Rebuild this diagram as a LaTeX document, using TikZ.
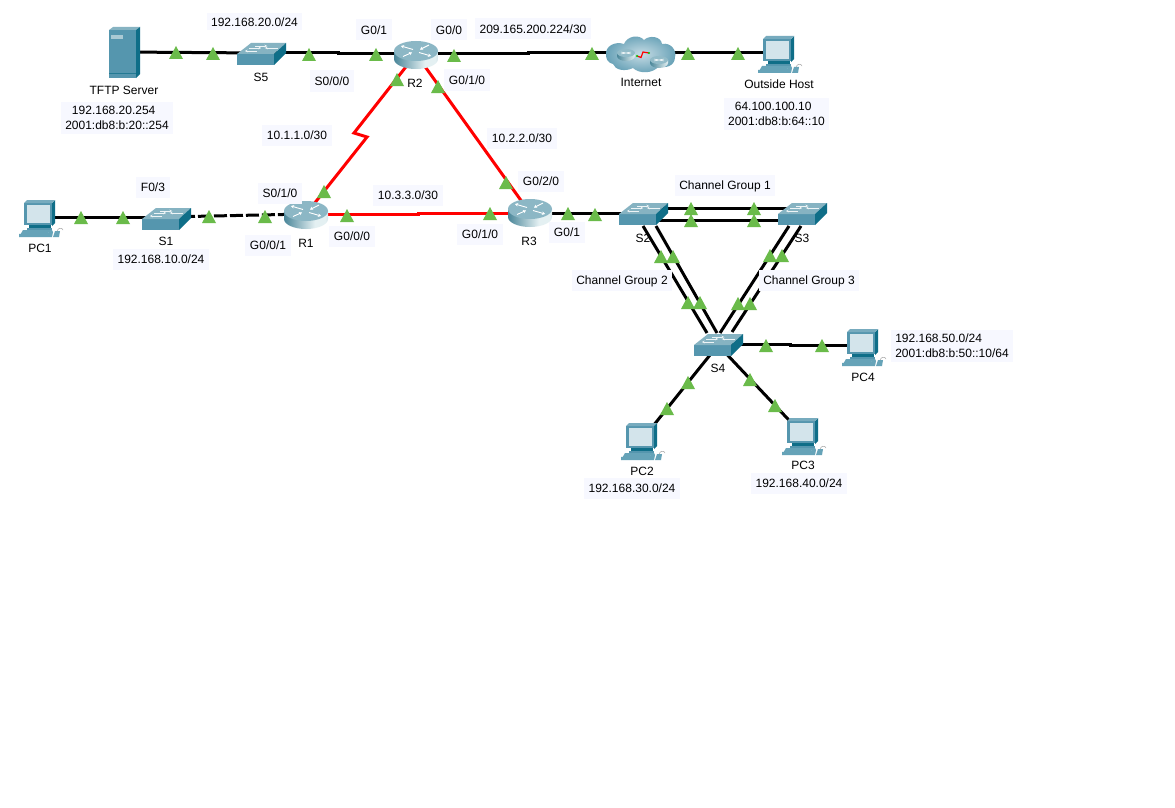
\documentclass[tikz,border=0pt]{standalone}
\usepackage{fontspec}
\usetikzlibrary{arrows.meta}
\setmainfont{Liberation Sans}
\definecolor{lblbg}{HTML}{F7F8FF}
\definecolor{trig}{HTML}{6ABB4A}
\definecolor{tfront}{HTML}{5596AE}
\definecolor{ttop}{HTML}{86B3C2}
\definecolor{tside}{HTML}{0F6E88}
\definecolor{tscreen}{HTML}{D3E4EB}
\definecolor{tkey}{HTML}{66A3B8}
\definecolor{rdark}{HTML}{4A8699}
\definecolor{rlight}{HTML}{E4F0F2}
\definecolor{redlink}{HTML}{FF0000}
\pgfdeclarehorizontalshading{routerbody}{100bp}{color(0bp)=(rdark); color(25bp)=(rdark); color(60bp)=(rlight); color(72bp)=(rlight); color(100bp)=(rdark)}
\tikzset{
  swmark/.style={white!85!ttop,line width=.5pt},
  romark/.style={white,line width=.9pt,-{Stealth[length=3pt,width=3.5pt]}},
}
\newcommand{\swicon}[2]{\begin{scope}[shift={(#1,#2)}]
    \fill[tfront] (0,0) rectangle (37,11);
    \fill[ttop] (0,0) -- (14,-11) -- (49,-11) -- (37,0) -- cycle;
    \fill[tside] (37,0) -- (49,-11) -- (49,-1) -- (37,11) -- cycle;
    \draw[swmark,-{Stealth[length=2.5pt,width=2.5pt]}] (18,-8) -- (30,-8);
    \draw[swmark,{Stealth[length=2.5pt,width=2.5pt]}-] (28,-6) -- (41,-6);
    \draw[swmark,-{Stealth[length=2.5pt,width=2.5pt]}] (12,-6) -- (24,-6);
    \draw[swmark,{Stealth[length=2.5pt,width=2.5pt]}-] (8,-3) -- (20,-3);
\end{scope}}
\newcommand{\roicon}[2]{\begin{scope}[shift={(#1,#2)}]
    \shade[shading=routerbody] (-22,0) -- (-22,8) arc[start angle=180,end angle=360,x radius=22,y radius=-10] -- (22,0) -- cycle;
    \fill[ttop!95!white] (0,0) ellipse[x radius=22,y radius=10];
    \draw[romark] (-3,-1.5) -- (-15,-5);
    \draw[romark] (-13,5.5) -- (-4,1.5);
    \draw[romark] (3,1.5) -- (15,5);
    \draw[romark] (13,-6) -- (4,-1.5);
\end{scope}}
\newcommand{\pcicon}[2]{\begin{scope}[shift={(#1,#2)}]
    \fill[tfront] (0,2) rectangle (28,24);
    \fill[tside] (28,2) -- (31,-1) -- (31,22) -- (28,25) -- cycle;
    \fill[tfront!80!white] (0,2) -- (3,-1) -- (31,-1) -- (28,2) -- cycle;
    \fill[tscreen] (2.5,4) rectangle (25.5,22);
    \fill[tside] (5,24) rectangle (27,27);
    \fill[tfront] (3,27) rectangle (28,29);
    \fill[tkey] (-1,29) -- (28,29) -- (29,31) -- (-5,36) -- cycle;
    \fill[tkey] (-5,33) -- (29,31) -- (28,36) -- (-5,36) -- cycle;
    \fill[tkey] (31,30) -- (36,30) -- (35,36) -- (29,36) -- cycle;
    \draw[black!35,line width=.5pt] (33,30) .. controls (34,27) and (38,26) .. (39,29);
\end{scope}}
\newcommand{\svicon}[2]{\begin{scope}[shift={(#1,#2)}]
    \fill[tfront] (0,3) rectangle (27,51);
    \fill[ttop] (0,3) -- (4,0) -- (31,0) -- (27,3) -- cycle;
    \fill[tside] (27,3) -- (31,0) -- (31,47) -- (27,51) -- cycle;
    \fill[ttop!70!white] (2,8) rectangle (14,12);
    \draw[tside!70!tfront,line width=.5pt] (0,46) -- (27,46);
\end{scope}}
\newcommand{\minirouter}{%
      \shade[left color=rdark,right color=rlight] (-9,0) -- (-9,3) arc[start angle=180,end angle=360,x radius=9,y radius=-5] -- (9,0) -- cycle;
      \fill[ttop!90!white] (0,0) ellipse[x radius=9,y radius=4];
      \draw[white,line width=.5pt] (-5,-1) -- (5,1) (-5,1) -- (5,-1);}
\newcommand{\clicon}[2]{\begin{scope}[shift={(#1,#2)}]
    \shade[inner color=tscreen!90!tfront,outer color=tfront!90!white]
      (-35,1) .. controls (-36,-8) and (-26,-13) .. (-17,-10)
      .. controls (-14,-18) and (-2,-20) .. (3,-14)
      .. controls (8,-19) and (20,-18) .. (21,-10)
      .. controls (30,-12) and (36,-3) .. (34,3)
      .. controls (34,12) and (24,15) .. (18,12)
      .. controls (12,20) and (-2,20) .. (-8,14)
      .. controls (-16,18) and (-26,16) .. (-28,10)
      .. controls (-33,9) and (-35,5) .. (-35,1) -- cycle;
    \begin{scope}[shift={(-15,-1)}]\minirouter\end{scope}
    \begin{scope}[shift={(18,6)}]\minirouter\end{scope}
    \draw[redlink,line width=1.2pt] (-4,2) -- (0,3.5) -- (2,-2) -- (8,-1);
    \fill[green!80!black] (-4,2) circle[radius=1.2] (8,-1) circle[radius=1.2];
\end{scope}}
\tikzset{
  dev/.style={inner sep=0pt,minimum size=0pt,outer sep=0pt},
  devtxt/.style={font=\fontsize{12}{15}\selectfont,inner sep=0pt,text=black},
  lbl/.style={font=\fontsize{12}{15}\selectfont,fill=lblbg,inner xsep=4.5pt,inner ysep=0pt,minimum height=21pt,text height=9pt,text depth=0pt,text=black},
  lbltwo/.style={font=\fontsize{12}{15}\selectfont,fill=lblbg,inner xsep=4.5pt,inner ysep=4pt,align=left,text=black},
  blk/.style={line width=3pt,black},
  rd/.style={line width=3pt,redlink},
  tri/.style={fill=trig},
}
\begin{document}
\begin{tikzpicture}[x=1pt,y=-1pt]
\useasboundingbox (0,0) rectangle (1175,808);
\fill[white] (0,0) rectangle (1175,808);

% device anchor nodes
\node[dev] (TFTP) at (122,52) {};
\node[dev] (S5) at (261,53) {};
\node[dev] (R2) at (416,54) {};
\node[dev] (NET) at (641,53) {};
\node[dev] (OUT) at (779,53) {};
\node[dev] (PC1) at (40,217) {};
\node[dev] (S1) at (166,217) {};
\node[dev] (R1) at (306,214) {};
\node[dev] (R3) at (530,213) {};
\node[dev] (S2) at (643,213) {};
\node[dev] (S3) at (802,213) {};
\node[dev] (S4) at (718,345) {};
\node[dev] (PC4) at (862,345) {};
\node[dev] (PC2) at (641,441) {};
\node[dev] (PC3) at (803,435) {};

% free ends of the parallel links and jogs in the links
\coordinate (j1) at (338,53);
\coordinate (j2) at (338,54);
\coordinate (j3) at (528,54);
\coordinate (j4) at (528,53);
\coordinate (j5) at (418,214);
\coordinate (j6) at (418,213);
\coordinate (j7) at (790,344);
\coordinate (j8) at (790,345);
\coordinate (z1) at (367,137);
\coordinate (z2) at (354,133);
\coordinate (a1) at (643,208);
\coordinate (a2) at (802,208);
\coordinate (b1) at (643,220);
\coordinate (b2) at (802,220);
\coordinate (c1) at (643,226);
\coordinate (c2) at (707,333);
\coordinate (d1) at (656,226);
\coordinate (d2) at (717,333);
\coordinate (e1) at (789,226);
\coordinate (e2) at (720,333);
\coordinate (f1) at (801,226);
\coordinate (f2) at (732,332);
\coordinate (k1) at (718,344);

% device names
\node[devtxt] (tTFTP) at (124,90) {TFTP Server};
\node[devtxt] (tS5) at (261,77) {S5};
\node[devtxt] (tR2) at (415,83) {R2};
\node[devtxt] (tNET) at (641,82) {Internet};
\node[devtxt] (tOUT) at (779,84) {Outside Host};
\node[devtxt] (tPC1) at (40,248) {PC1};
\node[devtxt] (tS1) at (166,241) {S1};
\node[devtxt] (tR1) at (306,243) {R1};
\node[devtxt] (tR3) at (529,241) {R3};
\node[devtxt] (tS2) at (643,238) {S2};
\node[devtxt] (tS3) at (802,238) {S3};
\node[devtxt] (tS4) at (718,368) {S4};
\node[devtxt] (tPC4) at (863,377) {PC4};
\node[devtxt] (tPC2) at (642,471) {PC2};
\node[devtxt] (tPC3) at (803,465) {PC3};

% links
\draw[blk] (TFTP) -- (S5);
\draw[blk] (S5) -- (j1) -- (j2) -- (R2);
\draw[blk] (R2) -- (j3) -- (j4) -- (NET);
\draw[blk] (NET) -- (OUT);
\draw[blk] (PC1) -- (S1);
\draw[blk,dash pattern=on 13pt off 3pt] (S1) -- (R1);
\draw[rd] (R1) -- (z1) -- (z2) -- (R2);
\draw[rd] (R2) -- (R3);
\draw[rd] (R1) -- (j5) -- (j6) -- (R3);
\draw[blk] (R3) -- (S2);
\draw[blk] (a1) -- (a2);
\draw[blk] (b1) -- (b2);
\draw[blk] (c1) -- (c2);
\draw[blk] (d1) -- (d2);
\draw[blk] (e1) -- (e2);
\draw[blk] (f1) -- (f2);
\draw[blk] (k1) -- (j7) -- (j8) -- (PC4);
\draw[blk] (S4) -- (PC2);
\draw[blk] (S4) -- (PC3);

% icons
\svicon{109}{27}
\swicon{237}{54}
\roicon{416}{51}
\clicon{641}{54}
\pcicon{763}{37}
\pcicon{24}{201}
\swicon{142}{219}
\roicon{306}{211}
\roicon{530}{209}
\swicon{619}{214}
\swicon{778}{214}
\swicon{694}{345}
\pcicon{847}{330}
\pcicon{626}{424}
\pcicon{787}{419}

% address and port labels
\node[lbl,minimum height=17pt] (l1) at (254.5,22) {192.168.20.0/24};
\node[lbl] (l2) at (374,30) {G0/1};
\node[lbl] (l3) at (449,30) {G0/0};
\node[lbl] (l4) at (533,29) {209.165.200.224/30};
\node[lbl] (l5) at (332,81) {S0/0/0};
\node[lbl] (l6) at (467,80) {G0/1/0};
\node[lbl] (l7) at (297,135) {10.1.1.0/30};
\node[lbl] (l8) at (522,138) {10.2.2.0/30};
\node[lbl] (l9) at (153,187) {F0/3};
\node[lbl] (l10) at (280,193) {S0/1/0};
\node[lbl] (l11) at (268,245) {G0/0/1};
\node[lbl] (l12) at (352,236) {G0/0/0};
\node[lbl] (l13) at (161,259) {192.168.10.0/24};
\node[lbl] (l14) at (408,195) {10.3.3.0/30};
\node[lbl] (l15) at (541,181) {G0/2/0};
\node[lbl] (l16) at (480,234) {G0/1/0};
\node[lbl] (l17) at (567,232) {G0/1};
\node[lbl] (l18) at (725,185) {Channel Group 1};
\node[lbl] (l19) at (622,280) {Channel Group 2};
\node[lbl] (l20) at (809,280) {Channel Group 3};
\node[lbl] (l21) at (632,488) {192.168.30.0/24};
\node[lbl] (l22) at (799,483) {192.168.40.0/24};
\node[lbltwo] (l23) at (117,118) {\hspace*{6.7pt}192.168.20.254\\2001:db8:b:20::254};
\node[lbltwo] (l24) at (776.5,114) {\hspace*{6.7pt}64.100.100.10\\2001:db8:b:64::10};
\node[lbltwo] (l25) at (952,346) {192.168.50.0/24\\2001:db8:b:50::10/64};

% link lights
\foreach \x/\y in {176/59,213/60,309/61,376/61,454/62,592/60,688/60,738/60,
  397/86,438/93,324/198,506/189,
  81/224,123/224,209/223,265/223,347/222,490/220,568/220,595/221,
  691/215,754/215,691/227,754/227,
  661/263,673/263,770/262,782/262,688/309,700/309,738/310,750/310,
  766/352,822/352,688/389,667/415,750/386,775/412}
  \fill[tri] (\x-7,\y) -- (\x,\y-13) -- (\x+7,\y) -- cycle;
\end{tikzpicture}
\end{document}
